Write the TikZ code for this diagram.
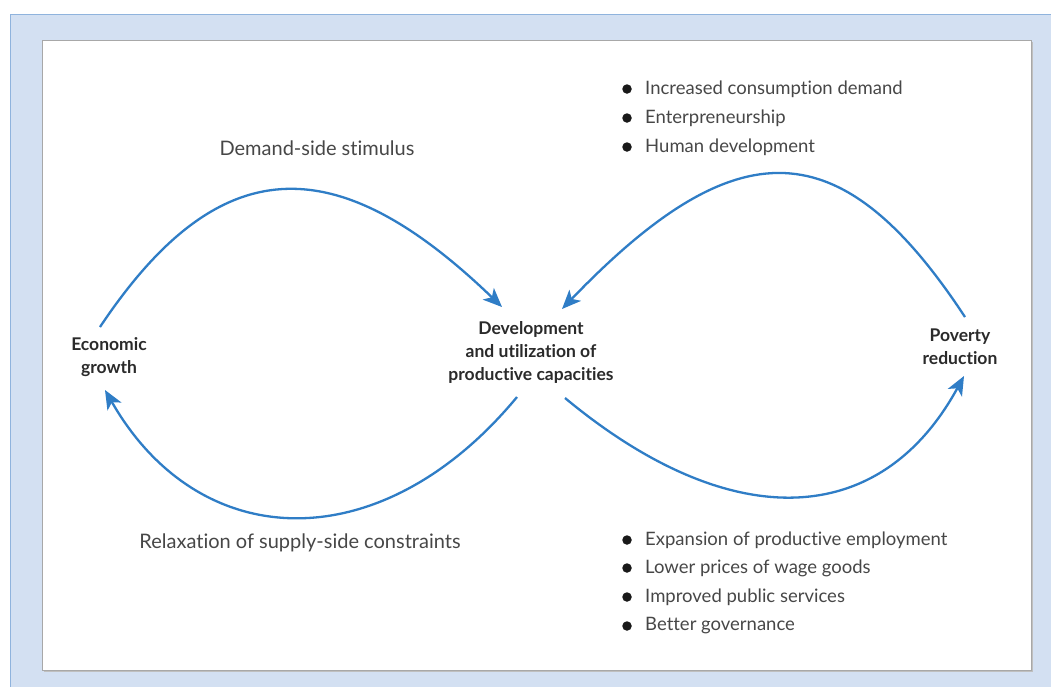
\documentclass[tikz,border=0pt]{standalone}
\usepackage{fontspec}
\setmainfont{Lato}[Ligatures={NoCommon}]
\usetikzlibrary{arrows.meta}
\definecolor{framebg}{HTML}{D3E0F2}
\definecolor{frameline}{HTML}{8FB3DD}
\definecolor{boxline}{HTML}{A8A8A8}
\definecolor{arrowblue}{HTML}{2F7DC6}
\definecolor{txt}{HTML}{474747}
\definecolor{txtb}{HTML}{2A2A2A}
\tikzset{
  loop/.style={draw=arrowblue, line width=2.3pt, -{Stealth[length=19pt,width=16pt,inset=5pt]}},
  lbl/.style={text=txt, font=\fontsize{20}{24}\selectfont, inner sep=0pt},
  hub/.style={text=txtb, font=\bfseries\fontsize{17.5}{23}\selectfont, align=center, inner sep=0pt},
  item/.style={text=txt, font=\fontsize{18.5}{22}\selectfont, anchor=west, inner sep=0pt},
  dot/.style={circle, fill=black!90, minimum size=9.5pt, inner sep=0pt}
}
\begin{document}
\begin{tikzpicture}[x=1pt,y=-1pt]
\useasboundingbox (0,0) rectangle (1051,686);
\fill[white] (0,0) rectangle (1051,686);
\draw[fill=framebg, draw=frameline, line width=1pt] (10,14) rectangle (1060,700);
\fill[black!25] (44,42) rectangle (1033,672);
\draw[fill=white, draw=boxline, line width=1pt] (42,40) rectangle (1031,670);

\node[hub] (eg) at (109,357) {Economic\\growth};
\node[hub] (dev) at (531,352) {Development\\and utilization of\\productive capacities};
\node[hub] (pr) at (960,347) {Poverty\\reduction};

\node[lbl] (dss) at (317,148) {Demand-side stimulus};
\node[lbl] (rsc) at (300,543) {Relaxation of supply-side constraints};

\coordinate (a1s) at (100,327);
\coordinate (a1e) at (502,307);
\coordinate (a2s) at (517,397);
\coordinate (a2e) at (105,390);
\coordinate (a3s) at (965,317);
\coordinate (a3e) at (562,309);
\coordinate (a4s) at (565,398);
\coordinate (a4e) at (964,376);

\draw[loop] (a1s) .. controls (218,150) and (335,146) .. (a1e);
\draw[loop] (a2s) .. controls (382,560) and (200,556) .. (a2e);
\draw[loop] (a3s) .. controls (842,130) and (738,126) .. (a3e);
\draw[loop] (a4s) .. controls (730,535) and (880,530) .. (a4e);

\node[dot] (b1) at (627,89) {};
\node[item] (t1) at (645,89) {Increased consumption demand};
\node[dot] (b2) at (627,118) {};
\node[item] (t2) at (645,118) {Enterpreneurship};
\node[dot] (b3) at (627,147) {};
\node[item] (t3) at (645,147) {Human development};

\node[dot] (c1) at (627,540) {};
\node[item] (u1) at (645,540) {Expansion of productive employment};
\node[dot] (c2) at (627,568) {};
\node[item] (u2) at (645,568) {Lower prices of wage goods};
\node[dot] (c3) at (627,597) {};
\node[item] (u3) at (645,597) {Improved public services};
\node[dot] (c4) at (627,626) {};
\node[item] (u4) at (645,626) {Better governance};
\end{tikzpicture}
\end{document}
